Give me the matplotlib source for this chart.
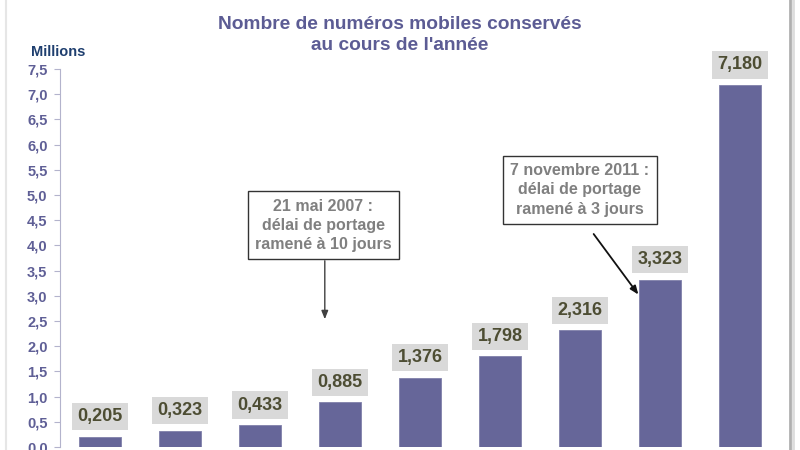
import matplotlib
matplotlib.use("Agg")
import matplotlib.pyplot as plt
from matplotlib.lines import Line2D

plt.rcParams['font.family'] = ['Liberation Sans', 'DejaVu Sans']

categories = ["2003", "2004", "2005", "2006", "2007", "2008", "2009", "2010", "2011"]
values = [0.205, 0.323, 0.433, 0.885, 1.376, 1.798, 2.316, 3.323, 7.180]
value_labels = ["0,205", "0,323", "0,433", "0,885", "1,376", "1,798", "2,316", "3,323", "7,180"]
yticks = [0.0, 0.5, 1.0, 1.5, 2.0, 2.5, 3.0, 3.5, 4.0, 4.5, 5.0, 5.5, 6.0, 6.5, 7.0, 7.5]
ytick_labels = ["0,0", "0,5", "1,0", "1,5", "2,0", "2,5", "3,0", "3,5", "4,0", "4,5",
                "5,0", "5,5", "6,0", "6,5", "7,0", "7,5"]
title = "Nombre de numéros mobiles conservés\nau cours de l'année"
note1 = "21 mai 2007 :\ndélai de portage\nramené à 10 jours"
note2 = "7 novembre 2011 :\ndélai de portage\nramené à 3 jours"

BAR = "#666699"
TICK = "#5f5f96"

fig = plt.figure(figsize=(8, 4.5), dpi=100)
ax = fig.add_axes([0.075, 0.0067, 0.9, 0.84])

x = list(range(len(categories)))
ax.bar(x, values, width=0.525, color=BAR, edgecolor="#8080aa", linewidth=0.6, zorder=2)

ax.set_xlim(-0.5, len(categories) - 0.5)
ax.set_ylim(0, 7.5)
ax.set_yticks(yticks)
ax.set_yticklabels(ytick_labels, fontsize=10.5, fontweight="bold", color=TICK)
ax.tick_params(axis="y", length=4, width=0.8, color="#b3b3cc", pad=5)
ax.set_xticks([])
for s in ("top", "right", "bottom"):
    ax.spines[s].set_visible(False)
ax.spines["left"].set_color("#b3b3cc")
ax.spines["left"].set_linewidth(0.8)
ax.patch.set_alpha(0)

for xi, v, lab in zip(x, values, value_labels):
    ax.annotate(lab, (xi, v), xytext=(0, 14.5), textcoords="offset points",
                ha="center", va="center", fontsize=13, fontweight="bold",
                color="#4d4d33",
                bbox=dict(boxstyle="square,pad=0.28", fc="#d9d9d9", ec="none"))

# annotation 1
ax.text(2.79, 4.40, note1, ha="center", va="center", fontsize=11.5,
        fontweight="bold", color="#808080", linespacing=1.35,
        bbox=dict(boxstyle="square,pad=0.45", fc="white", ec="#333333", lw=1.0), zorder=5)
ax.annotate("", xy=(2.81, 2.48), xytext=(2.81, 3.75),
            arrowprops=dict(arrowstyle="-|>,head_length=0.5,head_width=0.2",
                            color="#404040", lw=1.0))
# annotation 2
ax.text(6.0, 5.10, note2, ha="center", va="center", fontsize=11.5,
        fontweight="bold", color="#808080", linespacing=1.35,
        bbox=dict(boxstyle="square,pad=0.45", fc="white", ec="#333333", lw=1.0), zorder=5)
ax.annotate("", xy=(6.75, 2.98), xytext=(6.15, 4.27),
            arrowprops=dict(arrowstyle="-|>,head_length=0.5,head_width=0.2",
                            color="#111111", lw=1.3))

fig.text(0.5, 0.923, title, ha="center", va="center", fontsize=13.8, fontweight="bold",
         color="#5c5c94", linespacing=1.3)
fig.text(0.0725, 0.884, "Millions", ha="center", va="center", fontsize=10.5,
         fontweight="bold", color="#1f3f6f")

# frame edges
fig.add_artist(Line2D([0.9875, 0.9875], [0, 1], transform=fig.transFigure,
                      color="#b0b0b0", lw=2.0))
fig.add_artist(Line2D([0.991, 0.991], [0, 1], transform=fig.transFigure,
                      color="#dddddd", lw=2.0))
fig.add_artist(Line2D([0.007, 0.007], [0, 1], transform=fig.transFigure,
                      color="#e6e6e6", lw=1.5))

fig.savefig("out.png", dpi=100)
